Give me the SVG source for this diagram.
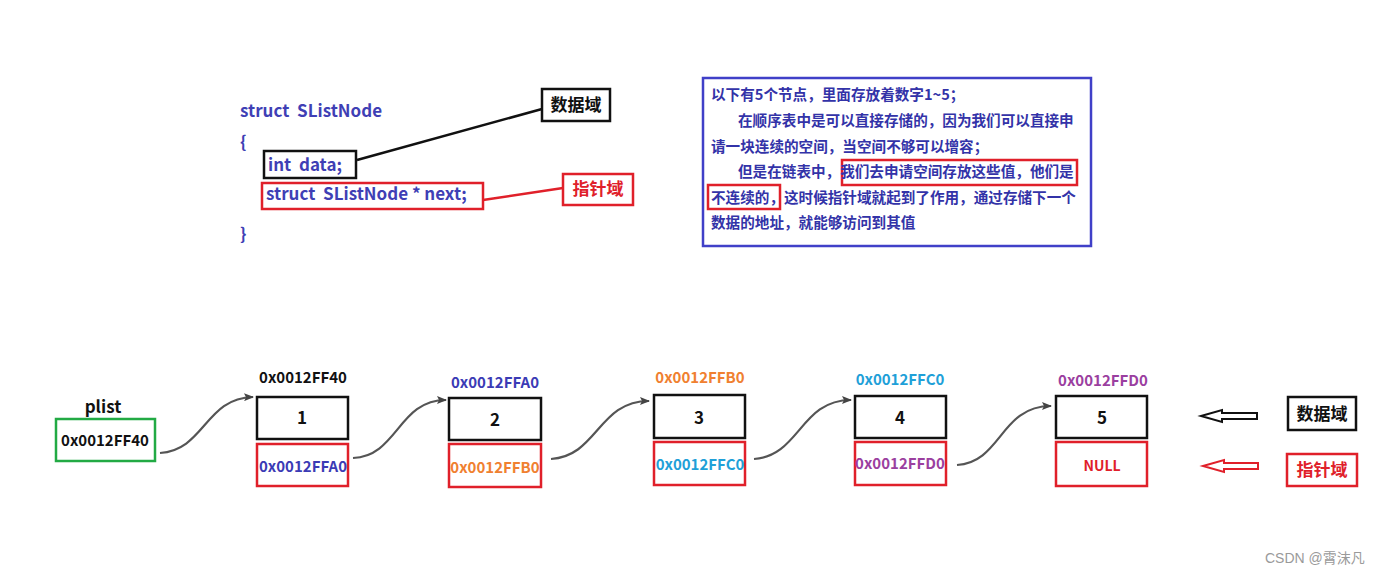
<svg xmlns="http://www.w3.org/2000/svg" width="1400" height="576" viewBox="0 0 1400 576">
<style>
.t{font-family:"Noto Sans CJK SC","Noto Sans",sans-serif;font-weight:bold}
.code{font-size:17px;fill:#3f3fb5;white-space:pre}
.para{font-size:14.6px;fill:#3333a8}
.addr{font-size:15px;text-anchor:middle}
.num{font-size:17px;text-anchor:middle;fill:#111}
.lbl{font-size:17px;text-anchor:middle}
.bk{fill:#fff;stroke:#111;stroke-width:2.5}
.rd{fill:#fff;stroke:#e0202a;stroke-width:2.5}
.cv{fill:none;stroke:#555;stroke-width:2.2;marker-end:url(#ah)}
</style>
<defs>
<marker id="ah" markerWidth="10" markerHeight="8" refX="9" refY="4" orient="auto" markerUnits="userSpaceOnUse">
<path d="M0,0 L10,4 L0,8 L2,4 Z" fill="#444"/>
</marker>
</defs>
<rect width="1400" height="576" fill="#fff"/>

<g id="code">
<text class="t code" x="240" y="117" xml:space="preserve">struct  SListNode</text>
<text class="t code" x="240" y="148">{</text>
<rect x="264" y="151" width="92" height="27" fill="none" stroke="#111" stroke-width="2.5"/>
<text class="t code" x="268" y="171" xml:space="preserve">int  data;</text>
<rect x="262" y="183" width="221" height="26" fill="none" stroke="#e0202a" stroke-width="2.5"/>
<text class="t code" x="266" y="200" xml:space="preserve">struct  SListNode * next;</text>
<text class="t code" x="240" y="240">}</text>
</g>

<g id="code-data-label">
<rect x="542" y="89" width="68" height="32" class="bk"/>
<text class="t lbl" x="576" y="111" fill="#111">数据域</text>
</g>
<g id="code-ptr-label">
<rect x="563" y="174" width="70" height="31" class="rd"/>
<text class="t lbl" x="598" y="195" fill="#e0202a">指针域</text>
</g>

<g id="note">
<rect x="703" y="78" width="388" height="168" fill="#fff" stroke="#4040c8" stroke-width="2.5"/>
<rect x="842" y="160" width="235" height="25" fill="none" stroke="#e0202a" stroke-width="2.5"/>
<rect x="708" y="185" width="72" height="24" fill="none" stroke="#e0202a" stroke-width="2.5"/>
<text class="t para" x="711" y="100">以下有5个节点，里面存放着数字1~5；</text>
<text class="t para" x="738" y="126">在顺序表中是可以直接存储的，因为我们可以直接申</text>
<text class="t para" x="711" y="152">请一块连续的空间，当空间不够可以增容；</text>
<text class="t para" x="738" y="177">但是在链表中，我们去申请空间存放这些值，他们是</text>
<text class="t para" x="711" y="203">不连续的，这时候指针域就起到了作用，通过存储下一个</text>
<text class="t para" x="711" y="228">数据的地址，就能够访问到其值</text>
</g>

<g id="connectors">
<line x1="357" y1="160" x2="542" y2="109" stroke="#111" stroke-width="2.5"/>
<line x1="483" y1="200" x2="563" y2="188" stroke="#e0202a" stroke-width="2.5"/>
<path class="cv" d="M160,453 C205,450 205,398 253,397"/>
<path class="cv" d="M353,458 C398,456 398,400 446,400"/>
<path class="cv" d="M551,459 C598,456 598,401 649,401"/>
<path class="cv" d="M754,459 C800,456 800,400 851,400"/>
<path class="cv" d="M957,465 C1002,462 1000,406 1051,406"/>
</g>

<g id="plist">
<text class="t lbl" x="103" y="413" fill="#111">plist</text>
<rect x="56" y="419" width="99" height="42" fill="#fff" stroke="#22aa44" stroke-width="2.5"/>
<text class="t addr" x="105" y="446" fill="#111">0x0012FF40</text>
</g>

<g id="node1">
<text class="t addr" x="303" y="383" fill="#111">0x0012FF40</text>
<rect x="257" y="397" width="91" height="42" class="bk"/>
<text class="t num" x="302" y="424">1</text>
<rect x="257" y="444" width="91" height="42" class="rd"/>
<text class="t addr" x="303" y="472" fill="#3b3bb5">0x0012FFA0</text>
</g>

<g id="node2">
<text class="t addr" x="495" y="388" fill="#3b3bb5">0x0012FFA0</text>
<rect x="449" y="398" width="92" height="42" class="bk"/>
<text class="t num" x="495" y="426">2</text>
<rect x="449" y="444" width="92" height="43" class="rd"/>
<text class="t addr" x="495" y="473" fill="#f08030">0x0012FFB0</text>
</g>

<g id="node3">
<text class="t addr" x="700" y="383" fill="#f08030">0x0012FFB0</text>
<rect x="654" y="395" width="91" height="43" class="bk"/>
<text class="t num" x="699" y="424">3</text>
<rect x="654" y="442" width="91" height="43" class="rd"/>
<text class="t addr" x="700" y="470" fill="#1fa0d8">0x0012FFC0</text>
</g>

<g id="node4">
<text class="t addr" x="900" y="385" fill="#1fa0d8">0x0012FFC0</text>
<rect x="855" y="396" width="91" height="42" class="bk"/>
<text class="t num" x="900" y="424">4</text>
<rect x="855" y="442" width="91" height="43" class="rd"/>
<text class="t addr" x="900" y="469" fill="#9b3fa0">0x0012FFD0</text>
</g>

<g id="node5">
<text class="t addr" x="1103" y="386" fill="#9b3fa0">0x0012FFD0</text>
<rect x="1056" y="396" width="91" height="42" class="bk"/>
<text class="t num" x="1102" y="424">5</text>
<rect x="1056" y="442" width="91" height="44" class="rd"/>
<text class="t addr" x="1102" y="471" fill="#e0202a" style="font-size:14px">NULL</text>
</g>

<g id="legend-data">
<path d="M1201,416 L1222,410 L1222,413 L1257,413 L1257,419 L1222,419 L1222,422 Z" fill="#fff" stroke="#111" stroke-width="2"/>
<rect x="1288" y="397" width="68" height="33" class="bk"/>
<text class="t lbl" x="1322" y="420" fill="#111">数据域</text>
</g>
<g id="legend-ptr">
<path d="M1203,466 L1224,460 L1224,463 L1258,463 L1258,469 L1224,469 L1224,472 Z" fill="#fff" stroke="#e0202a" stroke-width="2"/>
<rect x="1287" y="454" width="70" height="32" class="rd"/>
<text class="t lbl" x="1322" y="476" fill="#e0202a">指针域</text>
</g>

<text x="1265" y="563" font-family="'Liberation Sans','Noto Sans CJK SC',sans-serif" font-size="14" fill="#9a9a9a">CSDN @霄沫凡</text>
</svg>
